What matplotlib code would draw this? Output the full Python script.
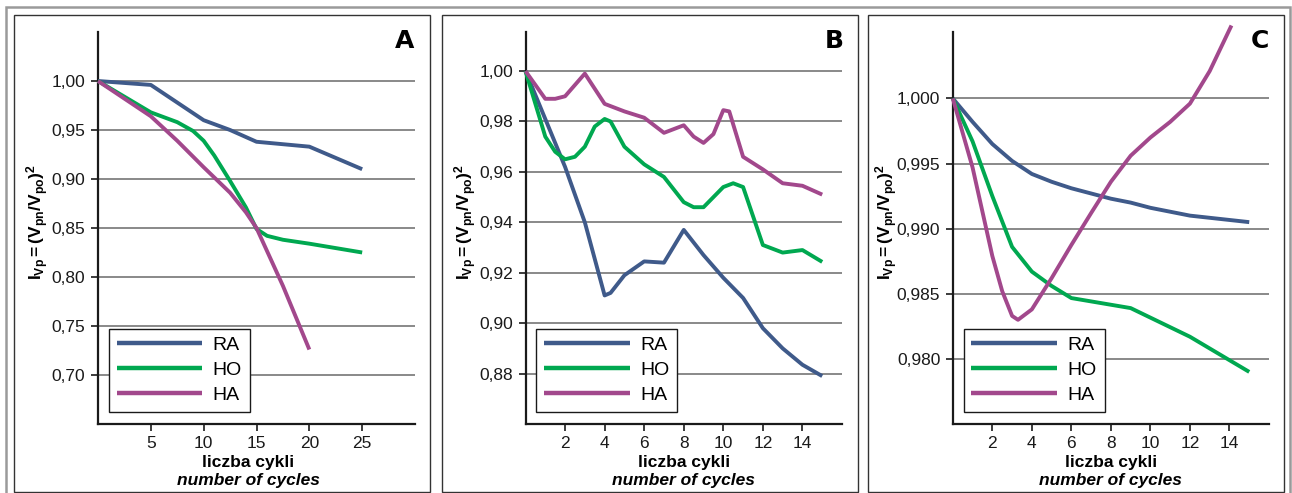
import matplotlib
matplotlib.use("Agg")
import matplotlib.pyplot as plt
from matplotlib.patches import Rectangle

# --- data ---
a_x_ra = [0, 5, 10, 12.5, 15, 20, 25]
a_ra = [1.000, 0.996, 0.960, 0.950, 0.938, 0.933, 0.910]
a_x_ho = [0, 5, 7.5, 9, 10, 11, 12.5, 14, 15, 16, 17.5, 20, 25]
a_ho = [1.000, 0.968, 0.958, 0.949, 0.939, 0.924, 0.898, 0.871, 0.849, 0.842, 0.838, 0.834, 0.825]
a_x_ha = [0, 5, 7.5, 10, 12.5, 14, 15, 17.5, 20]
a_ha = [1.000, 0.964, 0.939, 0.912, 0.886, 0.866, 0.850, 0.791, 0.726]

b_x_ra = [0, 2, 3, 4, 4.3, 5, 6, 7, 8, 9, 10, 11, 12, 13, 14, 15]
b_ra = [1.000, 0.962, 0.940, 0.911, 0.912, 0.919, 0.9245, 0.924, 0.937, 0.927, 0.918, 0.910,
        0.898, 0.890, 0.8835, 0.879]
b_x_ho = [0, 1, 1.5, 2, 2.5, 3, 3.5, 4, 4.3, 5, 6, 7, 8, 8.5, 9, 10, 10.5, 11, 12, 13, 14, 15]
b_ho = [1.000, 0.974, 0.968, 0.965, 0.966, 0.970, 0.978, 0.981, 0.980, 0.970, 0.963, 0.958,
        0.948, 0.946, 0.946, 0.954, 0.9555, 0.954, 0.931, 0.928, 0.929, 0.9243]
b_x_ha = [0, 1, 1.5, 2, 3, 4, 5, 6, 7, 8, 8.5, 9, 9.5, 10, 10.3, 11, 12, 13, 14, 15]
b_ha = [1.000, 0.989, 0.989, 0.990, 0.999, 0.987, 0.984, 0.9815, 0.9755, 0.9785, 0.974,
        0.9715, 0.975, 0.9845, 0.984, 0.966, 0.961, 0.9555, 0.9545, 0.951]

c_x_ra = [0, 1, 2, 3, 4, 5, 6, 8, 9, 10, 12, 15]
c_ra = [1.000, 0.9982, 0.9965, 0.9952, 0.9942, 0.9936, 0.9931, 0.9923, 0.9920, 0.9916,
        0.9910, 0.9905]
c_x_ho = [0, 1, 2, 3, 4, 5, 6, 9, 12, 15]
c_ho = [1.000, 0.9967, 0.9925, 0.9886, 0.9867, 0.9856, 0.98467, 0.9839, 0.9817, 0.9790]
c_x_ha = [0, 1, 2, 2.5, 3, 3.3, 4, 5, 6, 7, 8, 9, 10, 11, 12, 13, 14.1]
c_ha = [1.000, 0.9947, 0.9879, 0.9852, 0.9833, 0.9830, 0.9838, 0.9862, 0.98875, 0.9912,
        0.9936, 0.9956, 0.9970, 0.9982, 0.9996, 1.0021, 1.0056]

series_names = ["RA", "HO", "HA"]
colors = ["#3f5a8a", "#00a850", "#a2488c"]

plt.rcParams["font.family"] = ["Liberation Sans", "DejaVu Sans"]
plt.rcParams["mathtext.fontset"] = "custom"
plt.rcParams["mathtext.rm"] = "Liberation Sans"
plt.rcParams["mathtext.bf"] = "Liberation Sans:bold"
plt.rcParams["mathtext.it"] = "Liberation Sans:italic"

W, H = 1292, 493
fig = plt.figure(figsize=(W / 100, H / 100), dpi=100)


def px_axes(x0, x1, ytop, ybot):
    return fig.add_axes([x0 / W, 1 - ybot / H, (x1 - x0) / W, (ybot - ytop) / H])


# outer frame and panel boxes
fig.add_artist(Rectangle((6 / W, -0.05), (1290 - 6) / W, 1.05 - 7 / H, transform=fig.transFigure,
                         fill=False, edgecolor="#9a9a9a", linewidth=1.8))
for bx0, bx1 in [(14, 430), (442, 858), (868, 1284)]:
    fig.add_artist(Rectangle((bx0 / W, 1 - 492 / H), (bx1 - bx0) / W, (492 - 15) / H,
                             transform=fig.transFigure, fill=False, edgecolor="#333333", linewidth=1.0))

panels = [
    dict(pos=(98, 415), xlim=(0, 30), ylim=(0.65, 1.05), xticks=[5, 10, 15, 20, 25],
         yticks=[0.70, 0.75, 0.80, 0.85, 0.90, 0.95, 1.00], fmt="{:.2f}",
         data=[(a_x_ra, a_ra), (a_x_ho, a_ho), (a_x_ha, a_ha)], letter="A", lx=405, ylx=38),
    dict(pos=(525.5, 842), xlim=(0, 16), ylim=(0.86, 1.0155), xticks=[2, 4, 6, 8, 10, 12, 14],
         yticks=[0.88, 0.90, 0.92, 0.94, 0.96, 0.98, 1.00], fmt="{:.2f}",
         data=[(b_x_ra, b_ra), (b_x_ho, b_ho), (b_x_ha, b_ha)], letter="B", lx=834, ylx=466),
    dict(pos=(952.8, 1269), xlim=(0, 16), ylim=(0.975, 1.0051), xticks=[2, 4, 6, 8, 10, 12, 14],
         yticks=[0.980, 0.985, 0.990, 0.995, 1.000], fmt="{:.3f}",
         data=[(c_x_ra, c_ra), (c_x_ho, c_ho), (c_x_ha, c_ha)], letter="C", lx=1260, ylx=887),
]

for p in panels:
    x0, x1 = p["pos"]
    ax = px_axes(x0, x1, 32, 424)
    ax.set_xlim(*p["xlim"])
    ax.set_ylim(*p["ylim"])
    for spine in ["top", "right"]:
        ax.spines[spine].set_visible(False)
    for spine in ["left", "bottom"]:
        ax.spines[spine].set_linewidth(1.6)
        ax.spines[spine].set_color("#1a1a1a")
    ax.set_xticks(p["xticks"])
    ax.set_yticks(p["yticks"])
    ax.set_yticklabels([p["fmt"].format(v).replace(".", ",") for v in p["yticks"]])
    ax.tick_params(direction="out", length=5, width=1.2, labelsize=12.5, pad=4, colors="#1a1a1a")
    ax.yaxis.grid(True, color="#6a6a6a", linewidth=1.1)
    ax.set_axisbelow(True)

    for (xs, ys), name, c in zip(p["data"], series_names, colors):
        ax.plot(xs, ys, color=c, linewidth=2.8, label=name, clip_on=False,
                solid_joinstyle="round", solid_capstyle="butt", zorder=3)

    leg = ax.legend(loc="lower left", bbox_to_anchor=(0.034, 0.031), borderaxespad=0,
                    fontsize=14, handlelength=4.4, handletextpad=0.55, labelspacing=0.38,
                    borderpad=0.4, fancybox=False, framealpha=1, edgecolor="#1a1a1a")
    leg.get_frame().set_linewidth(1.0)
    leg.set_zorder(5)
    for line in leg.get_lines():
        line.set_linewidth(3.2)

    cx = (x0 + x1) / 2
    if p["letter"] == "A":
        cx = 248
    fig.text(cx / W, 1 - 462 / H, "liczba cykli", ha="center", va="center",
             fontsize=12.5, fontweight="bold")
    fig.text(cx / W, 1 - 480 / H, "number of cycles", ha="center", va="center",
             fontsize=12.5, fontweight="bold", fontstyle="italic")
    fig.text(p["ylx"] / W, 1 - 222 / H, r"$\mathbf{I_{Vp}=(V_{pn}/V_{po})^2}$",
             rotation=90, ha="center", va="center", fontsize=12.5)
    fig.text(p["lx"] / W, 1 - 41 / H, p["letter"], ha="center", va="center",
             fontsize=18, fontweight="black", family="DejaVu Sans")

fig.savefig("out.png", dpi=100)
